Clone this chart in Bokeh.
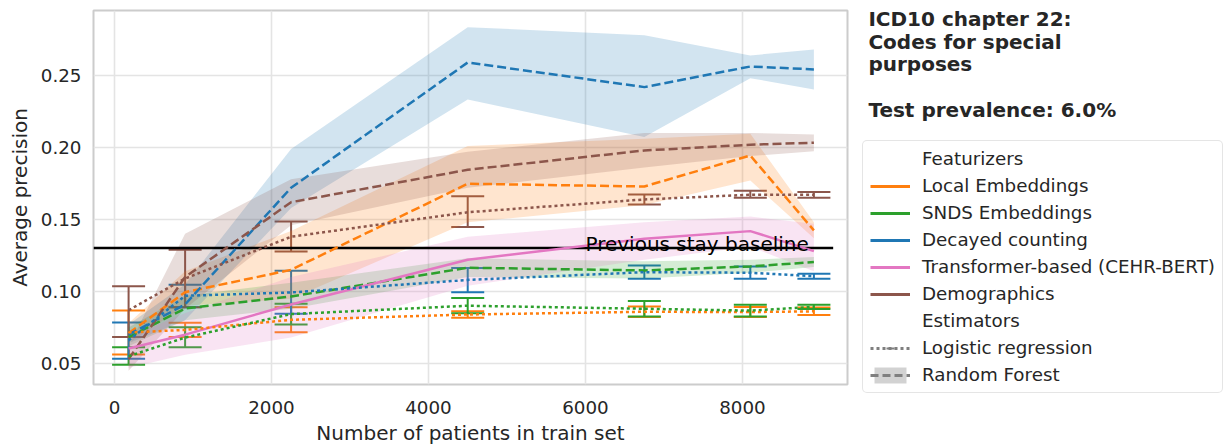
import numpy as np
from bokeh.plotting import figure
from bokeh.models import (Range1d, FixedTicker, PrintfTickFormatter, ColumnDataSource,
                          Whisker, TeeHead, Legend, LegendItem, Label)
from bokeh.layouts import row, column
from bokeh.embed import file_html
from bokeh.resources import INLINE
from bokeh.core.properties import value

# ---------------- data ----------------
TRAIN_SIZES = [180, 900, 2250, 4500, 6750, 8100, 8910]

FEATURIZERS = ["Local Embeddings", "SNDS Embeddings", "Decayed counting",
               "Transformer-based (CEHR-BERT)", "Demographics"]
COLORS = ["#ff7f0e", "#2ca02c", "#1f77b4", "#e377c2", "#8c564b"]

# Random Forest (dashed line + band)
local_rf = [0.071, 0.0995, 0.115, 0.1748, 0.1729, 0.1944, 0.1424]
local_rf_lo = [0.064, 0.090, 0.095, 0.148, 0.160, 0.177, 0.137]
local_rf_hi = [0.078, 0.114, 0.142, 0.201, 0.206, 0.2095, 0.148]

snds_rf = [0.0683, 0.0882, 0.0965, 0.1165, 0.1146, 0.1174, 0.1204]
snds_rf_lo = [0.062, 0.080, 0.088, 0.110, 0.109, 0.113, 0.117]
snds_rf_hi = [0.075, 0.097, 0.106, 0.123, 0.121, 0.122, 0.124]

decay_rf = [0.070, 0.091, 0.172, 0.259, 0.2419, 0.2562, 0.2542]
decay_rf_lo = [0.064, 0.080, 0.158, 0.2333, 0.2072, 0.2481, 0.2403]
decay_rf_hi = [0.077, 0.105, 0.199, 0.2835, 0.278, 0.2639, 0.268]

demo_rf = [0.053, 0.110, 0.162, 0.1845, 0.1979, 0.2019, 0.2033]
demo_rf_lo = [0.045, 0.088, 0.146, 0.172, 0.186, 0.194, 0.1974]
demo_rf_hi = [0.062, 0.140, 0.178, 0.197, 0.210, 0.210, 0.209]

# Transformer-based (solid line + band)
trans = [0.0604, 0.070, 0.091, 0.122, 0.1366, 0.1419, 0.128]
trans_lo = [0.047, 0.056, 0.068, 0.104, 0.122, 0.131, 0.114]
trans_hi = [0.068, 0.085, 0.110, 0.138, 0.148, 0.152, 0.147]

# Logistic regression (dotted line + error bars)
local_lr = [0.0715, 0.0733, 0.0803, 0.084, 0.0859, 0.0857, 0.0862]
local_lr_lo = [0.0563, 0.0683, 0.0717, 0.0818, 0.0822, 0.0822, 0.0836]
local_lr_hi = [0.0868, 0.0783, 0.0891, 0.0863, 0.0896, 0.0892, 0.0888]

snds_lr = [0.055, 0.068, 0.0843, 0.0901, 0.088, 0.0867, 0.0893]
snds_lr_lo = [0.0491, 0.0613, 0.0771, 0.0849, 0.0826, 0.0826, 0.0878]
snds_lr_hi = [0.0613, 0.0752, 0.0915, 0.0954, 0.0933, 0.0908, 0.0908]

decay_lr = [0.066, 0.097, 0.0993, 0.108, 0.1134, 0.113, 0.1106]
decay_lr_lo = [0.0533, 0.0891, 0.0845, 0.0995, 0.1088, 0.1088, 0.1088]
decay_lr_hi = [0.0785, 0.1047, 0.1143, 0.1163, 0.118, 0.1174, 0.1123]

demo_lr = [0.087, 0.109, 0.138, 0.155, 0.1639, 0.1672, 0.1672]
demo_lr_lo = [0.0683, 0.089, 0.1278, 0.1447, 0.1604, 0.165, 0.165]
demo_lr_hi = [0.1037, 0.129, 0.1486, 0.1662, 0.1674, 0.170, 0.169]

X_TICKS = [0, 2000, 4000, 6000, 8000]
Y_TICKS = [0.05, 0.10, 0.15, 0.20, 0.25]

BASELINE = 0.1301
BASELINE_LABEL = "Previous stay baseline"
BASELINE_LABEL_X = 6000

TITLE_LINES = ["ICD10 chapter 22:", "Codes for special", "purposes", "Test prevalence: 6.0%"]
LEGEND_HEADERS = ["Featurizers", "Estimators"]
ESTIMATORS = ["Logistic regression", "Random Forest"]

# ---------------- style ----------------
FONT = "DejaVu Sans"
TEXT = "#262626"
GRAY = "#7f7f7f"
X_LO, X_HI = -267, 9338
Y_LO, Y_HI = 0.0354, 0.2951
MAIN_W, H = 856, 448
SIDE_W = 1227 - MAIN_W
TITLE_H = 140

p = figure(width=MAIN_W, height=H, x_range=Range1d(X_LO, X_HI), y_range=Range1d(Y_LO, Y_HI),
           output_backend="svg", toolbar_location=None,
           min_border_left=93, min_border_right=9, min_border_top=10, min_border_bottom=64)
p.outline_line_color = "#cccccc"
p.outline_line_width = 2
p.background_fill_color = "white"

# bands
rf_sets = [(local_rf, local_rf_lo, local_rf_hi, COLORS[0]),
           (snds_rf, snds_rf_lo, snds_rf_hi, COLORS[1]),
           (decay_rf, decay_rf_lo, decay_rf_hi, COLORS[2]),
           (demo_rf, demo_rf_lo, demo_rf_hi, COLORS[4])]
for mean, lo, hi, c in rf_sets:
    p.varea(x=TRAIN_SIZES, y1=lo, y2=hi, fill_color=c, fill_alpha=0.2)
p.varea(x=TRAIN_SIZES, y1=trans_lo, y2=trans_hi, fill_color=COLORS[3], fill_alpha=0.2)

# baseline
p.segment(x0=[X_LO], y0=[BASELINE], x1=[X_LO + 0.981 * (X_HI - X_LO)], y1=[BASELINE],
          line_color="black", line_width=2.5)

# RF lines
for mean, lo, hi, c in rf_sets:
    p.line(x=TRAIN_SIZES, y=mean, line_color=c, line_width=2.5, line_dash="9 4")
p.line(x=TRAIN_SIZES, y=trans, line_color=COLORS[3], line_width=2.5)

# LR lines + error bars
lr_sets = [(local_lr, local_lr_lo, local_lr_hi, COLORS[0]),
           (snds_lr, snds_lr_lo, snds_lr_hi, COLORS[1]),
           (decay_lr, decay_lr_lo, decay_lr_hi, COLORS[2]),
           (demo_lr, demo_lr_lo, demo_lr_hi, COLORS[4])]
for mean, lo, hi, c in lr_sets:
    p.line(x=TRAIN_SIZES, y=mean, line_color=c, line_width=2.5, line_dash="3 3")
    src = ColumnDataSource(dict(x=TRAIN_SIZES, lo=lo, hi=hi))
    w = Whisker(base="x", lower="lo", upper="hi", source=src, dimension="height",
                line_color=c, line_width=2,
                upper_head=TeeHead(size=33, line_color=c, line_width=2),
                lower_head=TeeHead(size=33, line_color=c, line_width=2))
    p.add_layout(w)

p.text(x=[BASELINE_LABEL_X], y=[BASELINE], text=[BASELINE_LABEL], text_font=value(FONT),
       text_font_size="20px", text_color="black", text_baseline="alphabetic", y_offset=-4)

# axes
p.xaxis.ticker = FixedTicker(ticks=X_TICKS)
p.yaxis.ticker = FixedTicker(ticks=Y_TICKS)
p.yaxis.formatter = PrintfTickFormatter(format="%.2f")
for ax in p.axis:
    ax.axis_line_color = None
    ax.major_tick_line_color = None
    ax.minor_tick_line_color = None
    ax.major_tick_out = 0
    ax.major_tick_in = 0
    ax.major_label_text_font = FONT
    ax.major_label_text_font_size = "18.3px"
    ax.major_label_text_color = TEXT
    ax.axis_label_text_font = FONT
    ax.axis_label_text_font_size = "20px"
    ax.axis_label_text_font_style = "normal"
    ax.axis_label_text_color = TEXT
p.xaxis.axis_label = "Number of patients in train set"
p.yaxis.axis_label = "Average precision"
p.xaxis.major_label_standoff = 16
p.xaxis.axis_label_standoff = 4
p.yaxis.major_label_standoff = 12
p.yaxis.axis_label_standoff = 6
p.grid.grid_line_color = "#e4e4e4"
p.grid.grid_line_width = 1.6

# ---------------- side panel: title ----------------
pt = figure(width=SIDE_W, height=TITLE_H, x_range=Range1d(0, SIDE_W), y_range=Range1d(TITLE_H, 0),
            output_backend="svg", toolbar_location=None, min_border=0,
            x_axis_location=None, y_axis_location=None)
pt.outline_line_color = None
pt.grid.visible = False
title_y = [18.7, 41.3, 63.8, 109.3]
for txt, yb in zip(TITLE_LINES, title_y):
    pt.add_layout(Label(x=6, y=yb, text=txt, text_font=FONT, text_font_size="20px",
                        text_font_style="bold", text_color=TEXT, text_baseline="alphabetic"))

# ---------------- side panel: legend ----------------
pl = figure(width=SIDE_W, height=H - TITLE_H, x_range=Range1d(0, 1), y_range=Range1d(0, 1),
            output_backend="svg", toolbar_location=None, min_border=0, min_border_left=6,
            x_axis_location=None, y_axis_location=None)
pl.outline_line_color = None
pl.grid.visible = False

OFF_X, OFF_Y = [-3, -2], [-3, -3]   # dummy renderers kept outside the visible range
items = []
h1 = pl.line(x=OFF_X, y=OFF_Y, line_alpha=0)
items.append(LegendItem(label=LEGEND_HEADERS[0], renderers=[h1]))
for name, c in zip(FEATURIZERS, COLORS):
    r = pl.line(x=OFF_X, y=OFF_Y, line_color=c, line_width=3)
    items.append(LegendItem(label=name, renderers=[r]))
h2 = pl.line(x=OFF_X, y=OFF_Y, line_alpha=0)
items.append(LegendItem(label=LEGEND_HEADERS[1], renderers=[h2]))
r_lr = pl.line(x=OFF_X, y=OFF_Y, line_color=GRAY, line_width=3, line_dash="3 3")
r_lr2 = pl.scatter(x=OFF_X, y=OFF_Y, marker="dash", angle=np.pi / 2, size=16,
                   line_color=GRAY, line_width=2)
items.append(LegendItem(label=ESTIMATORS[0], renderers=[r_lr, r_lr2]))
r_band = pl.varea(x=OFF_X, y1=OFF_Y, y2=[-2.5, -2.5], fill_color=GRAY, fill_alpha=0.35)
r_rf = pl.line(x=OFF_X, y=OFF_Y, line_color=GRAY, line_width=3, line_dash="8 4")
items.append(LegendItem(label=ESTIMATORS[1], renderers=[r_band, r_rf]))

legend = Legend(items=items, location="top_left")
legend.label_text_font = FONT
legend.label_text_font_size = "18.3px"
legend.label_text_color = TEXT
legend.border_line_color = "#cccccc"
legend.border_line_width = 1
legend.background_fill_color = "white"
legend.background_fill_alpha = 1
legend.glyph_width = 40
legend.glyph_height = 20
legend.label_height = 20
legend.label_standoff = 12
legend.padding = 7
legend.spacing = 6
legend.margin = 0
try:
    legend.border_radius = 5
except Exception:
    pass
pl.add_layout(legend)

layout = row(p, column(pt, pl))
open("out.html", "w").write(file_html(layout, INLINE))
